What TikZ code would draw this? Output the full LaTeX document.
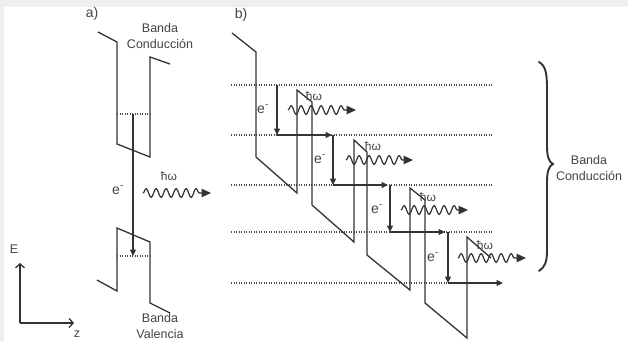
\documentclass[tikz,border=0pt]{standalone}
\usepackage{fontspec}
\setmainfont{Liberation Sans}
\usetikzlibrary{arrows.meta,decorations.pathmorphing}
\definecolor{ink}{HTML}{333333}
\definecolor{txt}{HTML}{444444}
\definecolor{lvl}{HTML}{4A4A4A}
\definecolor{strip}{HTML}{EFEFF1}

\begin{document}
\begin{tikzpicture}[x=1pt,y=-1pt,
  band/.style={draw=ink, line width=1.3pt, line join=miter},
  level/.style={draw=lvl, line width=1.1pt, dash pattern=on 1.4pt off 1.1pt},
  hop/.style={draw=ink, line width=1.3pt, -{Triangle[length=6.5pt,width=6pt]}},
  axis/.style={draw=ink, line width=1.3pt, -{Straight Barb[length=4pt,width=9pt]}},
  photon/.style={draw=ink, line width=1.2pt, decorate,
    decoration={snake, amplitude=4.4pt, segment length=10pt, post length=9pt},
    -{Triangle[length=9.5pt,width=8.5pt]}},
  lbl/.style={text=txt, font=\fontsize{12.5}{15.5}\selectfont, align=center, inner sep=0pt},
  tag/.style={text=txt, font=\fontsize{14}{16}\selectfont, inner sep=0pt},
  elec/.style={text=txt, font=\fontsize{14}{16}\selectfont, inner sep=0pt},
  hw/.style={text=txt, font=\fontsize{12}{14}\selectfont, inner sep=0pt}]

% page background with the light strips along the top and left edges
\useasboundingbox (0,0) rectangle (628,341);
\clip (0,0) rectangle (628,341);
\fill[white] (0,0) rectangle (628,341);
\fill[strip] (0,0) rectangle (628,7);
\fill[strip] (0,0) rectangle (4,341);

% ---------------- a) single quantum well ----------------
\node[tag] (taga) at (92,14) {a)};

% conduction band profile
\draw[band] (98,32) -- (117,42) -- (117,144) -- (150,157) -- (150,57) -- (170,64);
\draw[level] (117,114) -- (150,114);
% valence band profile
\draw[band] (97,280) -- (117,291) -- (117,228) -- (150,242) -- (150,303) -- (170,313);
\draw[level] (117,256) -- (150,256);

\coordinate (ca) at (133,114);
\coordinate (va) at (133,256);
\draw[hop] (ca) -- (va);

\node[elec] (ea) at (118,190) {e\textsuperscript{-}};
\coordinate (pa0) at (143,193);
\coordinate (pa1) at (211,193);
\draw[photon] (pa0) -- (pa1);
\node[hw] (hwa) at (169,176) {ħω};

\node[lbl] (cba) at (160,36) {Banda\\Conducción};
\node[lbl] (vba) at (160,326) {Banda\\Valencia};

% energy / growth axes
\coordinate (o) at (20,323);
\coordinate (ey) at (20,263);
\coordinate (zx) at (74,323);
\draw[axis] (o) -- (ey);
\draw[axis] (o) -- (zx);
\node[lbl] (elab) at (14,249) {E};
\node[lbl] (zlab) at (77,334) {z};

% ---------------- b) cascade of wells ----------------
\node[tag] (tagb) at (241,15) {b)};

% energy levels
\foreach \y in {85,135,185,232,283}
  \draw[level] (231,\y) -- (493,\y);

% staircase band profile
\draw[band] (232,33) -- (256,52) -- (256,157) -- (297,193) -- (297,90)
  -- (312,102) -- (312,205) -- (354,242) -- (354,140)
  -- (367,152) -- (367,255) -- (410,290) -- (410,188)
  -- (425,200) -- (425,303) -- (467,338) -- (467,237) -- (491,258);

% electron path: drop one level, then move on to the next well
\coordinate (s1) at (277,85);  \coordinate (d1) at (277,135); \coordinate (r1) at (332,135);
\coordinate (s2) at (333,135); \coordinate (d2) at (333,185); \coordinate (r2) at (388,185);
\coordinate (s3) at (390,185); \coordinate (d3) at (390,232); \coordinate (r3) at (445,232);
\coordinate (s4) at (448,232); \coordinate (d4) at (448,283); \coordinate (r4) at (503,283);
\foreach \i in {1,...,4} {
  \draw[hop] (s\i) -- (d\i);
  \draw[hop] (d\i) -- (r\i);
}

% emitted photons
\coordinate (p1a) at (288,110); \coordinate (p1b) at (356,110);
\coordinate (p2a) at (346,160); \coordinate (p2b) at (413,160);
\coordinate (p3a) at (401,210); \coordinate (p3b) at (468,210);
\coordinate (p4a) at (458,258); \coordinate (p4b) at (526,258);
\foreach \i in {1,...,4}
  \draw[photon] (p\i a) -- (p\i b);

\node[hw] (hw1) at (314,96) {ħω};
\node[hw] (hw2) at (373,146) {ħω};
\node[hw] (hw3) at (428,197) {ħω};
\node[hw] (hw4) at (485,245) {ħω};

\node[elec] (e1) at (263,109) {e\textsuperscript{-}};
\node[elec] (e2) at (320,159) {e\textsuperscript{-}};
\node[elec] (e3) at (377,209) {e\textsuperscript{-}};
\node[elec] (e4) at (433,257) {e\textsuperscript{-}};

% brace grouping the levels
\draw[ink, line width=1.9pt, line cap=round]
  (539,62) .. controls (546,66) and (547,74) .. (547,90) -- (547,146)
  .. controls (547,157) and (549,162) .. (553,164)
  .. controls (549,166) and (547,171) .. (547,182) -- (547,250)
  .. controls (547,262) and (545,267) .. (539,271);
\node[lbl] (cbb) at (589,168) {Banda\\Conducción};
\end{tikzpicture}
\end{document}
